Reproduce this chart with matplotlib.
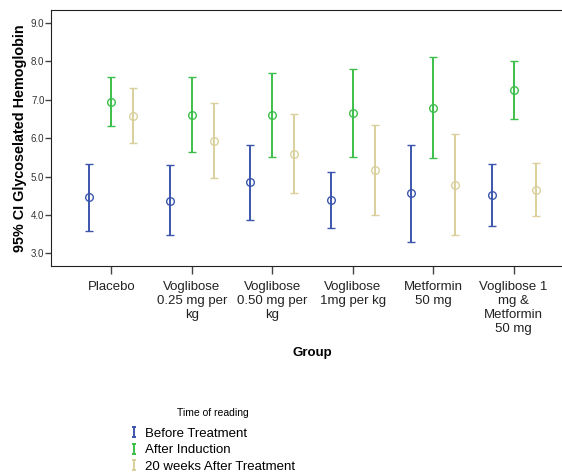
import numpy as np
import matplotlib
matplotlib.use("Agg")
import matplotlib.pyplot as plt
from matplotlib.path import Path
from matplotlib.lines import Line2D

plt.rcParams['font.family'] = ['Liberation Sans', 'DejaVu Sans']

groups = ['Placebo', 'Voglibose\n0.25 mg per\nkg', 'Voglibose\n0.50 mg per\nkg',
          'Voglibose\n1mg per kg', 'Metformin\n50 mg', 'Voglibose 1\nmg &\nMetformin\n50 mg']
series = ['Before Treatment', 'After Induction', '20 weeks After Treatment']
colors = ['#3c56ad', '#3cbf49', '#d9d09c']

# mean, lower CI, upper CI per series
before_mean = [4.46, 4.37, 4.85, 4.40, 4.56, 4.53]
before_lo = [3.59, 3.47, 3.88, 3.67, 3.30, 3.71]
before_hi = [5.33, 5.29, 5.83, 5.12, 5.82, 5.34]

induct_mean = [6.95, 6.61, 6.61, 6.66, 6.79, 7.26]
induct_lo = [6.33, 5.63, 5.52, 5.50, 5.48, 6.51]
induct_hi = [7.60, 7.60, 7.71, 7.81, 8.12, 8.00]

after_mean = [6.59, 5.94, 5.58, 5.18, 4.79, 4.66]
after_lo = [5.88, 4.97, 4.56, 4.01, 3.48, 3.97]
after_hi = [7.31, 6.91, 6.62, 6.34, 6.12, 5.35]

means = [before_mean, induct_mean, after_mean]
los = [before_lo, induct_lo, after_lo]
his = [before_hi, induct_hi, after_hi]

fig = plt.figure(figsize=(5.62, 4.72), dpi=100)
ax = fig.add_axes([0.0913, 0.4364, 0.91, 0.5424])

x = np.arange(1, len(groups) + 1)
offsets = [-0.274, 0, 0.274]
for m, lo, hi, c, off in zip(means, los, his, colors, offsets):
    m = np.array(m)
    err = [m - np.array(lo), np.array(hi) - m]
    ax.errorbar(x + off, m, yerr=err, fmt='o', mfc='none', mec=c, ms=5.5,
                mew=1.0, ecolor=c, elinewidth=1.4, capsize=3, capthick=1.4)

ax.set_xlim(0.253, 6.61)
ax.set_ylim(2.67, 9.34)
ax.set_yticks([3, 4, 5, 6, 7, 8, 9])
ax.set_yticklabels(['%.1f' % v for v in [3, 4, 5, 6, 7, 8, 9]], fontsize=7, color='#333333')
ax.set_xticks(x)
ax.set_xticklabels(groups, fontsize=9.5, linespacing=1.22, color='#222222')
ax.tick_params(axis='x', length=6, width=1, color='#444444', pad=5)
ax.tick_params(axis='y', length=4, width=1, color='#444444', pad=1)
ax.spines['right'].set_visible(False)
for s in ['left', 'bottom', 'top']:
    ax.spines[s].set_color('#222222')

ax.set_ylabel('95% CI Glycoselated Hemoglobin', fontsize=10.4, fontweight='bold', labelpad=3)
fig.text(0.555, 0.253, 'Group', fontsize=9.5, fontweight='bold', ha='center', va='center')

bar = Path([(-0.5, -1), (0.5, -1), (0, -1), (0, 1), (-0.5, 1), (0.5, 1)],
           [Path.MOVETO, Path.LINETO, Path.MOVETO, Path.LINETO, Path.MOVETO, Path.LINETO])
handles = [Line2D([], [], linestyle='none', marker=bar, ms=7, mfc='none', mec=c, mew=1.4)
           for c in colors]
leg = fig.legend(handles, series, loc='upper left', bbox_to_anchor=(0.22, 0.15),
                 frameon=False, fontsize=9.5, title='Time of reading', title_fontsize=7.5,
                 handlelength=0.6, handletextpad=0.5, labelspacing=0.32, borderpad=0)
leg._legend_box.align = 'center'
leg._legend_box.sep = 7

fig.savefig('out.png', dpi=100)
